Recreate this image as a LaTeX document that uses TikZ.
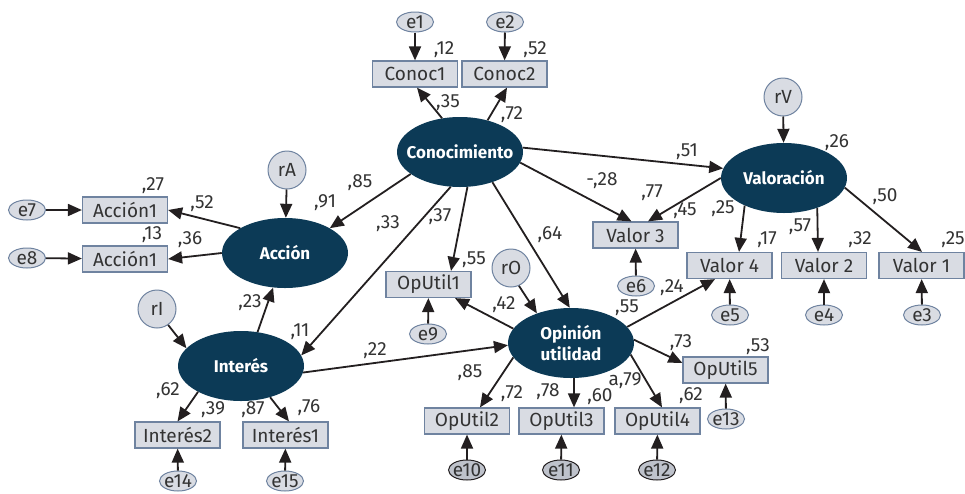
\documentclass[tikz,border=0pt]{standalone}
\usepackage{fontspec}
\setmainfont{Fira Sans}
\usetikzlibrary{arrows.meta,shapes.geometric}
\definecolor{navy}{HTML}{0C3A56}
\definecolor{boxfill}{HTML}{D9DCE3}
\definecolor{boxline}{HTML}{6F83A0}
\definecolor{darkerr}{HTML}{BEC2CB}
\definecolor{ink}{HTML}{231F20}
\definecolor{txt}{HTML}{333333}
\begin{document}
\begin{tikzpicture}[x=1pt,y=-1pt,
  latent/.style={ellipse, fill=navy, draw=none, minimum width=126pt, minimum height=70pt, inner xsep=-15pt, inner ysep=-10pt, text=white, font=\fontsize{17}{21}\selectfont\bfseries, align=center},
  obs/.style={rectangle, fill=boxfill, draw=boxline, line width=1.2pt, minimum width=85pt, minimum height=26pt, inner sep=0pt, font=\fontsize{19}{21}\selectfont, text=txt},
  err/.style={ellipse, fill=boxfill, draw=boxline, line width=1pt, minimum width=37pt, minimum height=20pt, inner xsep=-3pt, inner ysep=-2pt, font=\fontsize{19}{21}\selectfont, text=txt},
  errd/.style={err, fill=darkerr, draw=ink},
  resid/.style={circle, fill=boxfill, draw=boxline, line width=1pt, minimum size=38pt, inner sep=0pt, font=\fontsize{19}{21}\selectfont, text=txt},
  arr/.style={draw=ink, line width=1.8pt, -{Triangle[length=14pt,width=12pt]}},
  lbl/.style={font=\fontsize{19}{21}\selectfont, text=txt, inner sep=0pt}
]
\useasboundingbox[fill=white] (0,0) rectangle (965,493);

% latent variables
\node[latent] (conoc) at (460,152) {Conocimiento};
\node[latent] (acc) at (285,253) {Acción};
\node[latent] (interes) at (241,366) {Interés};
\node[latent] (opin) at (571,343) {Opinión\\utilidad};
\node[latent] (valor) at (784,178) {Valoración};

% residuals
\node[resid] (rA) at (287,170) {rA};
\node[resid] (rI) at (157,309) {rI};
\node[resid] (r0) at (511,268) {rO};
\node[resid] (rV) at (783,97) {rV};

% observed
\node[obs] (conoc1) at (415,74) {Conoc1};
\node[obs] (conoc2) at (504.5,74) {Conoc2};
\node[obs] (acc1) at (125,210) {Acción1};
\node[obs] (acc2) at (125,259) {Acción1};
\node[obs] (intr2) at (177.5,435) {Interés2};
\node[obs] (intr1) at (285.5,435) {Interés1};
\node[obs] (oput1) at (428.5,284.5) {OpUtil1};
\node[obs] (oput2) at (467,421) {OpUtil2};
\node[obs] (oput3) at (561.5,421) {OpUtil3};
\node[obs] (oput4) at (657.5,421) {OpUtil4};
\node[obs] (oput5) at (725.5,370) {OpUtil5};
\node[obs] (valor3) at (635.5,235) {Valor 3};
\node[obs] (valor4) at (729.5,265.5) {Valor 4};
\node[obs] (valor2) at (824,265.5) {Valor 2};
\node[obs] (valor1) at (921.5,265.5) {Valor 1};

% errors
\node[err] (e1) at (415,22) {e1};
\node[err] (e2) at (505,22) {e2};
\node[err] (e7) at (27,210) {e7};
\node[err] (e8) at (27,258) {e8};
\node[err] (e14) at (178,481) {e14};
\node[err] (e15) at (285,481) {e15};
\node[err] (e9) at (428,334) {e9};
\node[errd] (e10) at (467,470) {e10};
\node[errd] (e11) at (561,470) {e11};
\node[errd] (e12) at (657,470) {e12};
\node[err] (e13) at (726,419) {e13};
\node[err] (e6) at (636,286) {e6};
\node[err] (e5) at (730,315) {e5};
\node[err] (e4) at (824,315) {e4};
\node[err] (e3) at (922,315) {e3};

% error arrows
\draw[arr] (e1) -- (conoc1);
\draw[arr] (e2) -- (conoc2);
\draw[arr] (e7) -- (acc1);
\draw[arr] (e8) -- (acc2);
\draw[arr] (e14) -- (intr2);
\draw[arr] (e15) -- (intr1);
\draw[arr] (e9) -- (oput1);
\draw[arr] (e10) -- (oput2);
\draw[arr] (e11) -- (oput3);
\draw[arr] (e12) -- (oput4);
\draw[arr] (e13) -- (oput5);
\draw[arr] (e6) -- (valor3);
\draw[arr] (e5) -- (valor4);
\draw[arr] (e4) -- (valor2);
\draw[arr] (e3) -- (valor1);

% residual arrows
\draw[arr] (rA) -- (acc);
\draw[arr] (rV) -- (valor);
\draw[arr] (rI.-55) -- (interes.162);
\draw[arr] (r0.-66) -- (opin.139);

% Conocimiento paths
\draw[arr] (conoc.118) -- ([xshift=2pt]conoc1.south);
\draw[arr] (conoc.49) -- ([xshift=2.5pt]conoc2.south);
\draw[arr] (conoc.204) -- (acc.29);
\draw[arr] (conoc.255) -- (interes.10);
\draw[arr] (conoc.282) -- ([xshift=22.5pt]oput1.north);
\draw[arr] (conoc.317) -- (opin.92);
\draw[arr] (conoc.350) -- ([xshift=-4pt]valor3.north);
\draw[arr] (conoc.4) -- (valor.171);

% Accion
\draw[arr] (acc.151) -- (acc1.east);
\draw[arr] (acc.180) -- (acc2.east);

% Interes
\draw[arr] (interes.64) -- (acc.251);
\draw[arr] (interes.211) -- (intr2.north);
\draw[arr] (interes.313) -- ([xshift=3.5pt]intr1.north);
\draw[arr] (interes.354) -- (opin.182);

% Opinion
\draw[arr] (opin.166) -- ([xshift=26.5pt]oput1.south);
\draw[arr] (opin.194) -- ([xshift=13pt]oput2.north);
\draw[arr] (opin.275) -- ([xshift=12.5pt]oput3.north);
\draw[arr] (opin.349) -- ([xshift=4.5pt]oput4.north);
\draw[arr] (opin.3) -- ([yshift=7pt]oput5.west);
\draw[arr] (opin.16) -- ([xshift=-14.5pt]valor4.south);

% Valoracion
\draw[arr] (valor.180) -- ([xshift=12.5pt]valor3.north);
\draw[arr] (valor.215) -- ([xshift=9.5pt]valor4.north);
\draw[arr] (valor.318) -- ([xshift=-6pt]valor2.north);
\draw[arr] (valor.351) -- ([xshift=0.5pt]valor1.north);

% labels
\node[lbl] (l1) at (444,50) {,12};
\node[lbl] (l2) at (535,50) {,52};
\node[lbl] (l3) at (448,103) {,35};
\node[lbl] (l4) at (512,115) {,72};
\node[lbl] (l5) at (153,186) {,27};
\node[lbl] (l6) at (202,204) {,52};
\node[lbl] (l7) at (152,235) {,13};
\node[lbl] (l8) at (190,240) {,36};
\node[lbl] (l9) at (325,203) {,91};
\node[lbl] (l10) at (360,183) {,85};
\node[lbl] (l11) at (388,224) {,33};
\node[lbl] (l12) at (440,217) {,37};
\node[lbl] (l13) at (550,235) {,64};
\node[lbl] (l14) at (474,260) {,55};
\node[lbl] (l15) at (250,303) {,23};
\node[lbl] (l16) at (300,332) {,11};
\node[lbl] (l17) at (375,351) {,22};
\node[lbl] (l18) at (168,391) {,62};
\node[lbl] (l19) at (213,410) {,39};
\node[lbl] (l20) at (253,410) {,87};
\node[lbl] (l21) at (309,408) {,76};
\node[lbl] (l22) at (504,305) {,42};
\node[lbl] (l23) at (627,308) {,55};
\node[lbl] (l24) at (672,288) {,24};
\node[lbl] (l25) at (470,373) {,85};
\node[lbl] (l26) at (512,394) {,72};
\node[lbl] (l27) at (548,392) {,78};
\node[lbl] (l28) at (600,397) {,60};
\node[lbl] (l29) at (625,381) {a,79};
\node[lbl] (l30) at (691,396) {,62};
\node[lbl] (l31) at (681,343) {,73};
\node[lbl] (l32) at (758,347) {,53};
\node[lbl] (l33) at (837,143) {,26};
\node[lbl] (l34) at (687,152) {,51};
\node[lbl] (l35) at (602,181) {-,28};
\node[lbl] (l36) at (652,193) {,77};
\node[lbl] (l37) at (685,211) {,45};
\node[lbl] (l38) at (723,209) {,25};
\node[lbl] (l39) at (767,240) {,17};
\node[lbl] (l40) at (800,227) {,57};
\node[lbl] (l41) at (860,240) {,32};
\node[lbl] (l42) at (885,197) {,50};
\node[lbl] (l43) at (953,240) {,25};
\end{tikzpicture}
\end{document}
